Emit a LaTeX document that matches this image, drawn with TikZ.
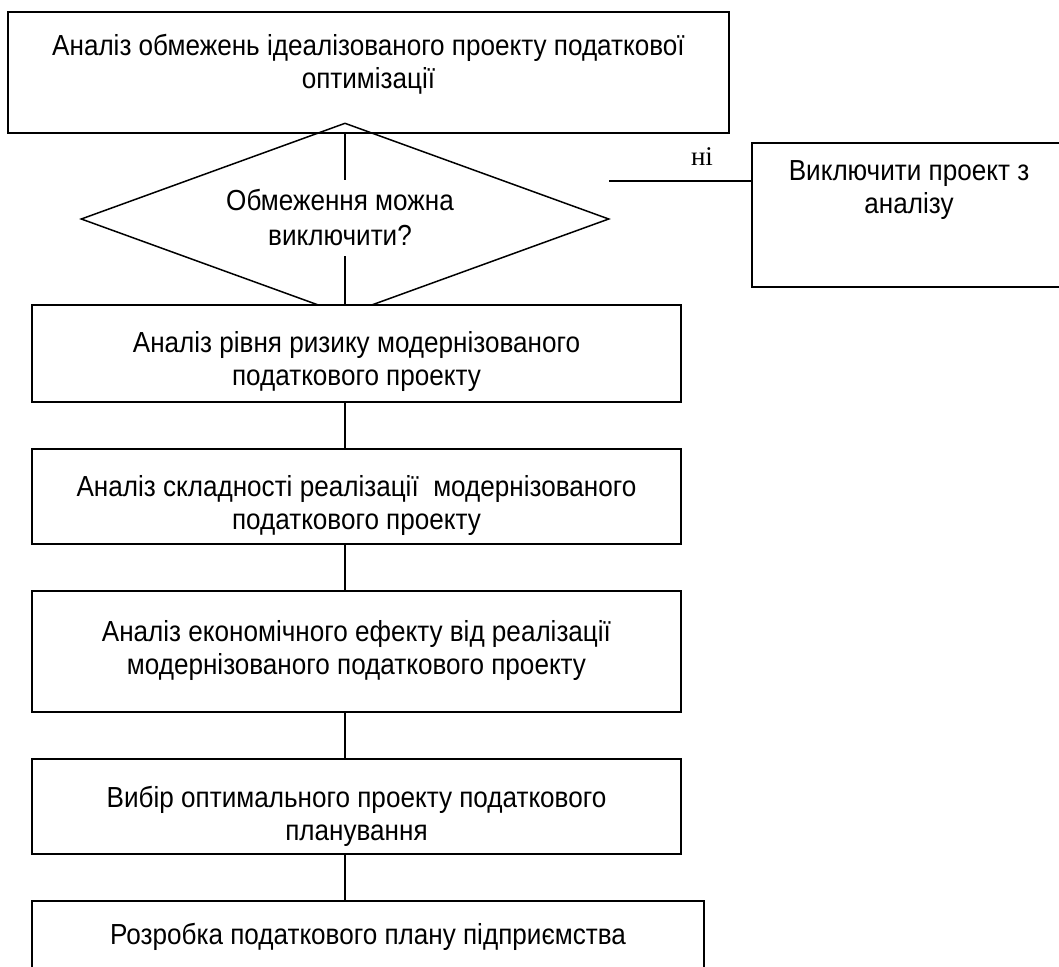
\documentclass[tikz,border=0pt]{standalone}
\usepackage{fontspec}
\setmainfont{Liberation Sans}[FakeStretch=0.9]
\newfontfamily\timesnm{Liberation Serif}
\usepackage{tikz}
\usetikzlibrary{shapes.geometric}
\definecolor{ink}{HTML}{000000}
\definecolor{paper}{HTML}{FFFFFF}
\tikzset{
  box/.style={draw=ink, line width=1.8pt, fill=paper, align=center, inner sep=0pt,
    font=\fontsize{29}{33}\selectfont, text depth=6pt, anchor=north},
  link/.style={draw=ink, line width=1.2pt},
}

\begin{document}
\begin{tikzpicture}[x=1pt, y=-1pt]
\useasboundingbox (0,0) rectangle (1059,966);
% top block and the question
\node[box, minimum width=721pt, minimum height=121pt, text height=39pt] (top) at (368.5,11)
  {Аналіз обмежень ідеалізованого проекту податкової\\ оптимізації};
\node[diamond, draw=ink, line width=1.5pt, minimum width=528pt, minimum height=192pt, inner sep=0pt] (dia) at (345,219) {};
\node[align=center, font=\fontsize{29}{35}\selectfont, inner sep=10pt] (q) at (340,218)
  {Обмеження можна\\ виключити?};
% the "no" branch
\node[box, minimum width=314pt, minimum height=144pt, text height=4pt] (excl) at (909,142)
  {Виключити проект з\\ аналізу};
\coordinate (nofrom) at (609,181);
\draw[link] (nofrom) -- (nofrom -| excl.west);
\node[font=\timesnm\fontsize{27}{30}\selectfont, inner sep=0pt] (nolbl) at (702,157) {ні};
% main column
\foreach \n/\yt/\bh/\th/\txt in {
  2/304/97/71/{Аналіз рівня ризику модернізованого\\ податкового проекту},
  3/448/95/73/{Аналіз складності реалізації\ \ модернізованого\\ податкового проекту},
  4/590/121/53/{Аналіз економічного ефекту від реалізації\\ модернізованого податкового проекту},
  5/758/95/75/{Вибір оптимального проекту податкового\\ планування}}{
  \node[box, minimum width=649pt, minimum height=\bh pt, text height=\th pt] (b\n) at (356.5,\yt) {\txt};
}
\node[box, minimum width=672pt, minimum height=96pt, text height=19pt, text depth=27pt] (b6) at (368,900)
  {Розробка податкового плану підприємства};
\draw[link] (top.south -| dia) -- (q.north -| dia);
\draw[link] (q.south -| dia) -- (b2.north -| dia);
\foreach \a/\b in {2/3,3/4,4/5,5/6}
  \draw[link] (b\a.south -| dia) -- (b\b.north -| dia);
\end{tikzpicture}
\end{document}
